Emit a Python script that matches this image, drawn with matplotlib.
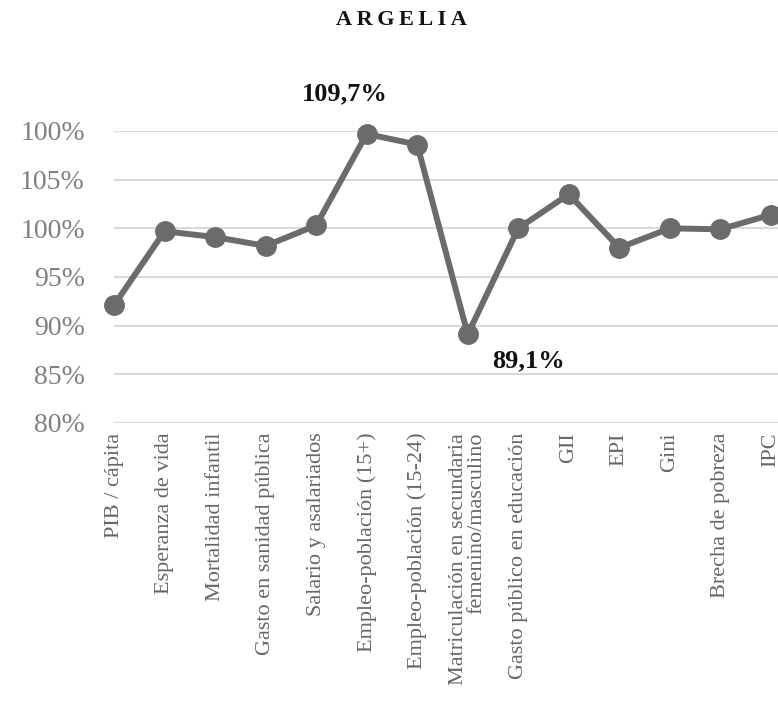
import matplotlib
matplotlib.use("Agg")
import matplotlib.pyplot as plt

# Indicators and values (% of reference) for Argelia
categories = [
    "PIB / cápita",
    "Esperanza de vida",
    "Mortalidad infantil",
    "Gasto en sanidad pública",
    "Salario y asalariados",
    "Empleo-población (15+)",
    "Empleo-población (15-24)",
    "Matriculación en secundaria\nfemenino/masculino",
    "Gasto público en educación",
    "GII",
    "EPI",
    "Gini",
    "Brecha de pobreza",
    "IPC",
]
values = [92.1, 99.7, 99.1, 98.2, 100.3, 109.7, 108.6, 89.1, 100.0, 103.5, 98.0, 100.0, 99.9, 101.4]
ytick_values = [80, 85, 90, 95, 100, 105, 110]
ytick_labels = ["80%", "85%", "90%", "95%", "100%", "105%", "100%"]

plt.rcParams["font.family"] = ["Liberation Serif", "DejaVu Serif"]

fig = plt.figure(figsize=(7.78, 7.01), dpi=100)
ax = fig.add_axes([114 / 778, 1 - 423 / 701, 1 - 114 / 778, (423 - 131) / 701])

x = list(range(len(values)))
ax.plot(x, values, color="#6b6b6e", linewidth=4.3, marker="o", markersize=14,
        solid_capstyle="round", clip_on=False, zorder=3)

ax.set_xlim(0, 13.14)
ax.set_ylim(80, 110)
ax.set_yticks(ytick_values)
ax.set_yticklabels(ytick_labels, fontsize=20, color="#808080")
ax.set_xticks(x)
ax.set_xticklabels(categories, rotation=90, fontsize=16, color="#666666",
                   multialignment="right", linespacing=0.95)
ax.tick_params(axis="x", length=0, pad=7)
ax.tick_params(axis="y", length=0, pad=21)
ax.grid(axis="y", color="#d9d9d9", linewidth=1.5)
ax.set_axisbelow(True)
for s in ax.spines.values():
    s.set_visible(False)

# highlight max and min
imax = values.index(max(values))
imin = values.index(min(values))
ax.annotate(f"{values[imax]:.1f}%".replace(".", ","), (x[imax], values[imax]),
            xytext=(-16, 24), textcoords="offset points", ha="center",
            fontsize=19, fontweight="bold", color="#111111")
ax.annotate(f"{values[imin]:.1f}%".replace(".", ","), (x[imin], values[imin]),
            xytext=(44, -24), textcoords="offset points", ha="center",
            fontsize=19, fontweight="bold", color="#111111")

fig.text(401 / 778, 1 - 20 / 701, "\u2009".join("ARGELIA"), ha="center", va="center",
         fontsize=16, fontweight="bold", color="#111111")

fig.savefig("out.png", dpi=100)
